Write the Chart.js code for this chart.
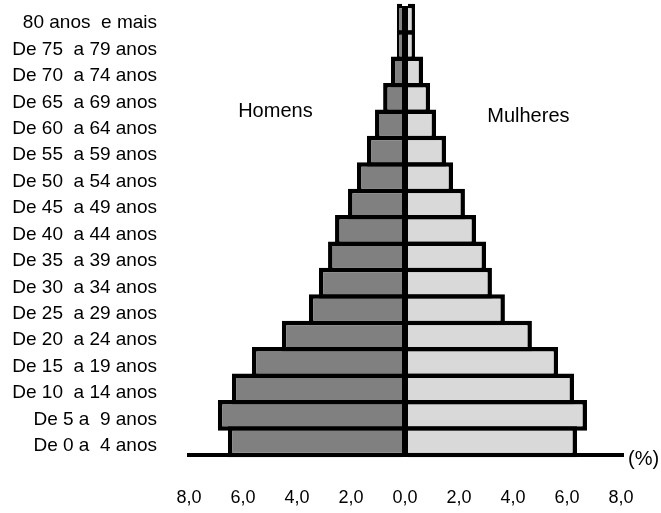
<!DOCTYPE html>
<html>
<head>
<meta charset="utf-8">
<script src="https://cdn.jsdelivr.net/npm/chart.js@4"></script>
<style>
    body { margin: 0; background: #fff; }
    #wrap { width: 661px; height: 513px; position: relative; }
</style>
</head>
<body>
<div id="wrap"><canvas id="pyramid"></canvas></div>
<script>
// faixas etárias, de cima para baixo
const faixas = [
    '80 anos  e mais',
    'De 75  a 79 anos',
    'De 70  a 74 anos',
    'De 65  a 69 anos',
    'De 60  a 64 anos',
    'De 55  a 59 anos',
    'De 50  a 54 anos',
    'De 45  a 49 anos',
    'De 40  a 44 anos',
    'De 35  a 39 anos',
    'De 30  a 34 anos',
    'De 25  a 29 anos',
    'De 20  a 24 anos',
    'De 15  a 19 anos',
    'De 10  a 14 anos',
    'De 5 a  9 anos',
    'De 0 a  4 anos'
];

// % da população
const homens   = [0.30, 0.30, 0.52, 0.81, 1.11, 1.41, 1.78, 2.11, 2.59, 2.85, 3.19, 3.56, 4.56, 5.67, 6.41, 6.93, 6.56];
const mulheres = [0.37, 0.37, 0.67, 0.93, 1.15, 1.52, 1.78, 2.22, 2.63, 3.00, 3.22, 3.70, 4.70, 5.67, 6.26, 6.74, 6.37];

const eixoMin = -8;
const eixoMax = 8;
const eixoPasso = 2;

const FONT = '"Liberation Sans", Arial, sans-serif';

// textos soltos: Homens / Mulheres / (%)
const textosPlugin = {
    id: 'textos',
    afterDraw(chart) {
        const { ctx, scales: { x, y }, chartArea } = chart;
        ctx.save();
        ctx.fillStyle = '#000';
        ctx.font = '20px ' + FONT;
        ctx.textAlign = 'center';
        ctx.textBaseline = 'middle';
        ctx.fillText('Homens', x.getPixelForValue(-4.8), y.getPixelForValue(3.5));
        ctx.fillText('Mulheres', x.getPixelForValue(4.57), y.getPixelForValue(3.7));
        ctx.textAlign = 'left';
        ctx.fillText('(%)', chartArea.right + 7, chartArea.bottom + 4);
        ctx.restore();
    }
};

const ctx = document.getElementById('pyramid').getContext('2d');
new Chart(ctx, {
    type: 'bar',
    data: {
        labels: faixas,
        datasets: [
            {
                label: 'Homens',
                data: homens.map(v => -v), // lado esquerdo
                backgroundColor: '#808080'
            },
            {
                label: 'Mulheres',
                data: mulheres,
                backgroundColor: '#d9d9d9'
            }
        ].map(ds => Object.assign(ds, {
            borderColor: '#000',
            borderWidth: 4.5,
            borderSkipped: 'start',
            categoryPercentage: 1,
            barPercentage: 1.17, // bordas sobrepostas como no original
            clip: false
        }))
    },
    options: {
        indexAxis: 'y',
        responsive: true,
        maintainAspectRatio: false,
        animation: false,
        layout: { padding: { top: 6, right: 40, bottom: 0, left: 0 } },
        plugins: {
            legend: { display: false },
            tooltip: { enabled: false }
        },
        scales: {
            x: {
                stacked: true,
                min: eixoMin,
                max: eixoMax,
                afterFit(scale) {
                    scale.height = 58;
                    scale.paddingLeft = 0;
                    scale.paddingRight = 0;
                },
                ticks: {
                    stepSize: eixoPasso,
                    padding: 32,
                    color: '#000',
                    font: { family: FONT, size: 18 },
                    callback: v => Math.abs(v).toFixed(1).replace('.', ',')
                },
                grid: {
                    z: 1, // linha do zero por cima das barras
                    drawTicks: false,
                    color: c => (c.tick && c.tick.value === 0 ? '#000' : 'rgba(0,0,0,0)'),
                    lineWidth: 6
                },
                border: { display: true, color: '#000', width: 4, z: 1 }
            },
            y: {
                stacked: true,
                afterFit(scale) {
                    scale.width = 189;
                    // não deixar o padding dos rótulos empurrar a área do gráfico
                    scale.paddingTop = 0;
                    scale.paddingBottom = 0;
                },
                ticks: {
                    autoSkip: false,
                    padding: 32,
                    labelOffset: 4,
                    color: '#000',
                    font: { family: FONT, size: 19 }
                },
                grid: { display: false, drawTicks: false },
                border: { display: false }
            }
        }
    },
    plugins: [textosPlugin]
});
</script>
</body>
</html>
